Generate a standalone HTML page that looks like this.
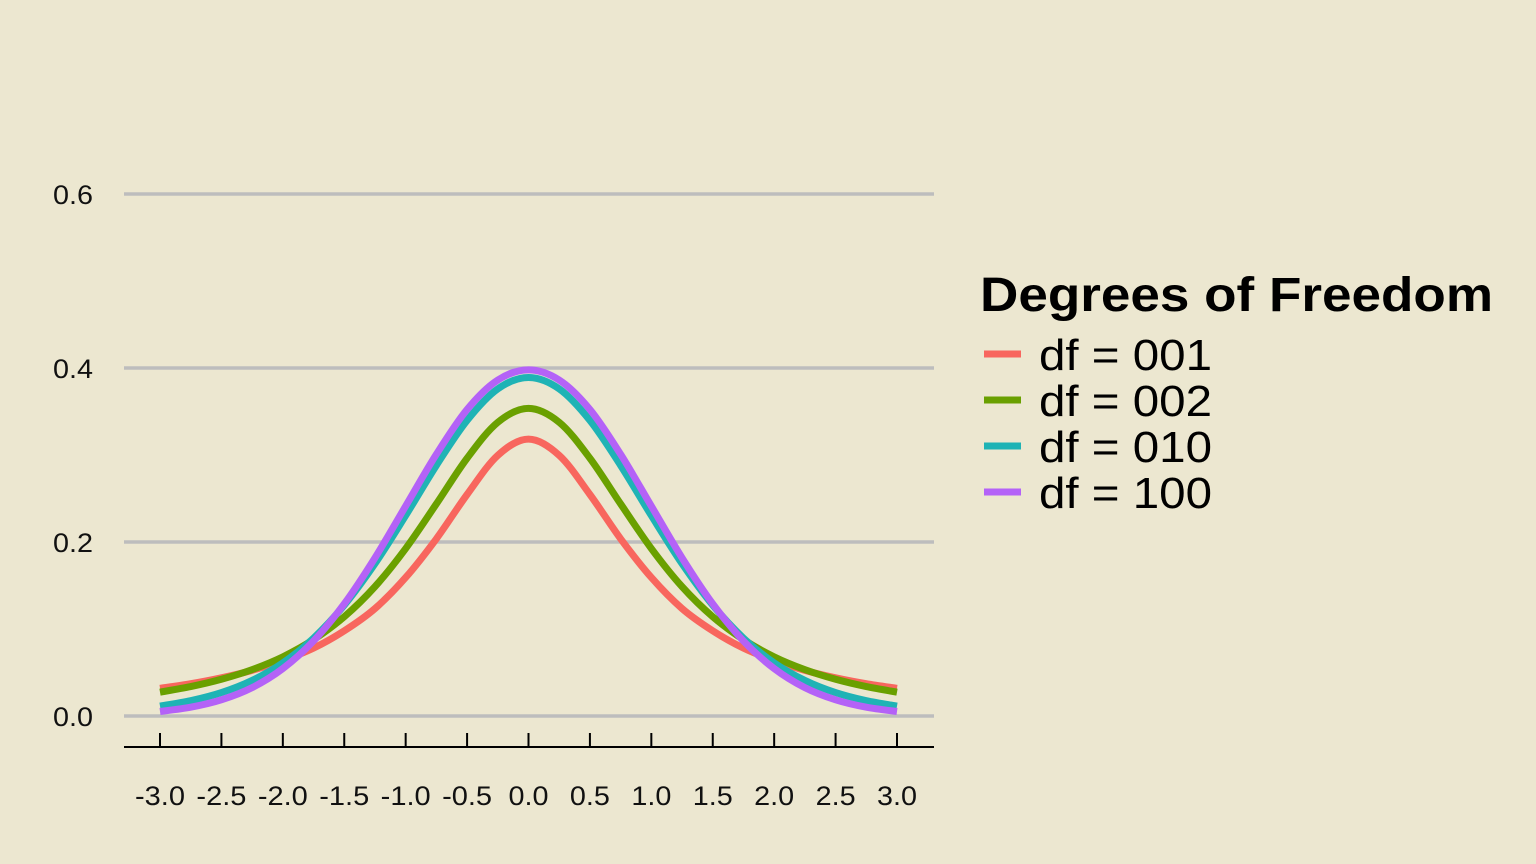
<!DOCTYPE html>
<html><head><meta charset="utf-8"><style>
body{margin:0;background:#ece7d0;}
svg{display:block;font-family:"Liberation Sans",Arial,sans-serif;}
</style></head><body>
<svg id="chart" width="1536" height="864" viewBox="0 0 1536 864">
<rect width="1536" height="864" fill="#ece7d0"/>
<g id="grid"></g><g id="axes"></g><g id="series"></g><g id="legend"></g>
</svg>
<script>
const xVals=[-3,-2.75,-2.5,-2.25,-2,-1.75,-1.5,-1.25,-1,-0.75,-0.5,-0.25,0,0.25,0.5,0.75,1,1.25,1.5,1.75,2,2.25,2.5,2.75,3];
const df1=[0.0318,0.0371,0.0439,0.0525,0.0637,0.0780,0.0979,0.1235,0.1592,0.2037,0.2546,0.2996,0.3183,0.2996,0.2546,0.2037,0.1592,0.1235,0.0979,0.0780,0.0637,0.0525,0.0439,0.0371,0.0318];
const df2=[0.0274,0.0338,0.0422,0.0533,0.0680,0.0878,0.1141,0.1487,0.1925,0.2438,0.2963,0.3376,0.3536,0.3376,0.2963,0.2438,0.1925,0.1487,0.1141,0.0878,0.0680,0.0533,0.0422,0.0338,0.0274];
const df10=[0.0114,0.0176,0.0269,0.0409,0.0611,0.0895,0.1274,0.1751,0.2304,0.2880,0.3397,0.3760,0.3891,0.3760,0.3397,0.2880,0.2304,0.1751,0.1274,0.0895,0.0611,0.0409,0.0269,0.0176,0.0114];
const df100=[0.0052,0.0101,0.0186,0.0326,0.0545,0.0862,0.1289,0.1818,0.2413,0.3008,0.3523,0.3862,0.3979,0.3862,0.3523,0.3008,0.2413,0.1818,0.1289,0.0862,0.0545,0.0326,0.0186,0.0101,0.0052];
const seriesNames=["df = 001","df = 002","df = 010","df = 100"];
const seriesColors=["#f8665e","#6aa000","#1fb3b5","#b462f7"];
const xTicks=[-3,-2.5,-2,-1.5,-1,-0.5,0,0.5,1,1.5,2,2.5,3];
const yTicks=[0,0.2,0.4,0.6];

const NS="http://www.w3.org/2000/svg";
const X=v=>160+(v+3)*(897-160)/6;
const Y=v=>716-v*(716-194)/0.6;
function mk(tag,attrs,parent,text){const e=document.createElementNS(NS,tag);for(const k in attrs)e.setAttribute(k,attrs[k]);if(text!==undefined)e.textContent=text;parent.appendChild(e);return e;}
const grid=document.getElementById('grid'),axes=document.getElementById('axes'),ser=document.getElementById('series'),leg=document.getElementById('legend');
yTicks.forEach(t=>{
  const l=mk('line',{x1:124,x2:934,y1:Y(t),y2:Y(t),stroke:'#bdbdbd','stroke-width':3.5},grid);
  
  
  const tx=mk('text',{x:93,y:Y(t)+10,'text-anchor':'end','font-size':27,textLength:40,lengthAdjust:'spacingAndGlyphs',fill:'#111'},axes,t.toFixed(1));
  
  
});
const ax=mk('line',{x1:124,x2:934,y1:747,y2:747,stroke:'#000','stroke-width':2},axes);


xTicks.forEach(t=>{
  const l=mk('line',{x1:X(t),x2:X(t),y1:733,y2:747,stroke:'#000','stroke-width':2},axes);
  
  
  const lbl=t.toFixed(1);
  const tx=mk('text',{x:X(t),y:805,'text-anchor':'middle','font-size':27,textLength:(lbl.length>3?50:40),lengthAdjust:'spacingAndGlyphs',fill:'#111'},axes,lbl);
  
  
});
function pathFor(ys){
  const p=xVals.map((x,i)=>[X(x),Y(ys[i])]);
  let d='M'+p[0][0]+','+p[0][1];
  for(let i=0;i<p.length-1;i++){
    const p0=p[Math.max(0,i-1)],p1=p[i],p2=p[i+1],p3=p[Math.min(p.length-1,i+2)];
    const c1=[p1[0]+(p2[0]-p0[0])/6,p1[1]+(p2[1]-p0[1])/6];
    const c2=[p2[0]-(p3[0]-p1[0])/6,p2[1]-(p3[1]-p1[1])/6];
    d+=' C'+c1+' '+c2+' '+p2;
  }
  return d;
}
[df1,df2,df10,df100].forEach((ys,i)=>{
  const pth=mk('path',{d:pathFor(ys),fill:'none',stroke:seriesColors[i],'stroke-width':7,'stroke-linejoin':'round'},ser);
  
  
});
const title=mk('text',{x:980,y:311,'font-size':48,'font-weight':'bold',textLength:513,lengthAdjust:'spacingAndGlyphs',fill:'#000'},leg,'Degrees of Freedom');


seriesNames.forEach((n,i)=>{
  const cy=354+i*46;
  const k=mk('line',{x1:984,x2:1021,y1:cy,y2:cy,stroke:seriesColors[i],'stroke-width':7},leg);
  
  
  const t=mk('text',{x:1039,y:cy+16,'font-size':44,textLength:173,lengthAdjust:'spacingAndGlyphs',fill:'#000'},leg,n);
  
  
});
</script>
</body></html>
